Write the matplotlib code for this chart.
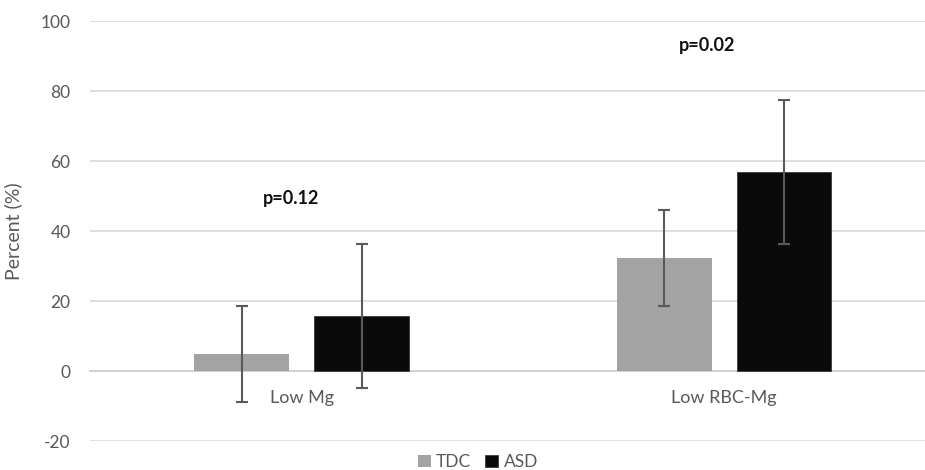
import matplotlib
matplotlib.use("Agg")
import matplotlib.pyplot as plt
import numpy as np

categories = ["Low Mg", "Low RBC-Mg"]
series_names = ["TDC", "ASD"]
tdc_values = [4.9, 32.3]
asd_values = [15.7, 56.9]
tdc_err = [13.8, 13.8]
asd_err = [20.6, 20.6]
p_labels = ["p=0.12", "p=0.02"]
p_y = [49.4, 93.0]
p_dx = [-0.026, -0.04]
yticks = [-20, 0, 20, 40, 60, 80, 100]

plt.rcParams['font.family'] = ['Lato', 'DejaVu Sans']
plt.rcParams['axes.unicode_minus'] = False
text_color = "#595959"
grid_color = "#d9d9d9"

fig = plt.figure(figsize=(9.25, 4.7), dpi=100)
ax = fig.add_axes([90/925, 29/470, 1 - 90/925, (441-21)/470])

x = np.arange(len(categories))
bw = 0.225
off = 0.142
ax.bar(x - off, tdc_values, bw, color="#a3a3a3", label=series_names[0], zorder=3,
       yerr=tdc_err, error_kw=dict(ecolor="#5a5a5a", elinewidth=1.5, capsize=4, capthick=1.5, zorder=4))
ax.bar(x + off, asd_values, bw, color="#0a0a0a", edgecolor="#3a3a3a", linewidth=0.6,
       label=series_names[1], zorder=3,
       yerr=asd_err, error_kw=dict(ecolor="#5a5a5a", elinewidth=1.5, capsize=4, capthick=1.5, zorder=4))

for i, (lab, yy, dx) in enumerate(zip(p_labels, p_y, p_dx)):
    ax.text(x[i] + dx, yy, lab, ha="center", va="center", fontsize=13,
            fontweight="bold", color="#111111")

ax.set_xlim(-0.502, 1.476)
ax.set_ylim(-20, 100)
ax.set_yticks(yticks)
ax.set_xticks(x)
ax.set_xticklabels(categories)
ax.yaxis.grid(True, color=grid_color, linewidth=1.2, zorder=0)
ax.set_axisbelow(True)
for s in ["top", "right", "left"]:
    ax.spines[s].set_visible(False)
ax.spines["bottom"].set_position(("data", 0))
ax.spines["bottom"].set_color("#d0d0d0")
ax.spines["bottom"].set_linewidth(1.2)
ax.spines["bottom"].set_zorder(2)
ax.tick_params(axis="x", length=0, pad=14, labelsize=13, labelcolor=text_color)
ax.tick_params(axis="y", length=0, pad=14, labelsize=12.5, labelcolor=text_color)
ax.set_ylabel("Percent (%)", fontsize=14, color=text_color)
ax.yaxis.set_label_coords(-(90-22)/835, 0.5)

fig.legend(loc="center", bbox_to_anchor=(478/925, 1 - 462/470), ncol=2, frameon=False,
           handlelength=0.75, handleheight=0.75, columnspacing=0.8, handletextpad=0.3,
           fontsize=12.5, labelcolor=text_color)

fig.savefig("out.png", dpi=100, facecolor="white")
